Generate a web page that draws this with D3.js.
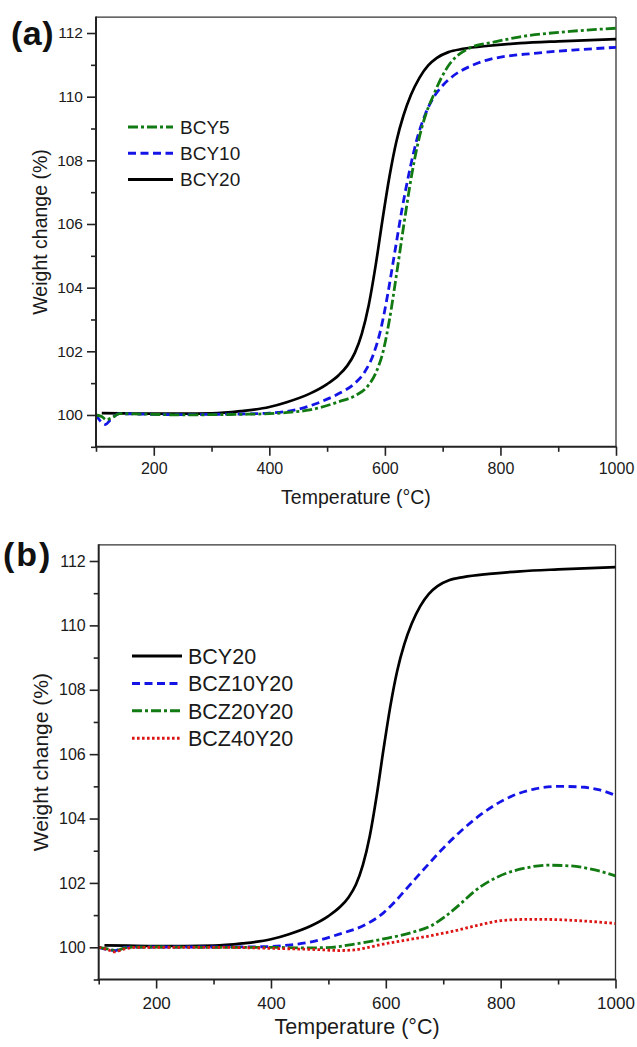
<!DOCTYPE html>
<html><head><meta charset="utf-8">
<script src="https://cdn.jsdelivr.net/npm/d3@7/dist/d3.min.js"></script>
<style>html,body{margin:0;padding:0;background:#fff;}svg{display:block;}</style>
</head><body>
<svg id="chart" width="637" height="1047"></svg>
<script>
// ---------- data ----------
const xMajorTicks = [200, 400, 600, 800, 1000];
const xMinorTicks = [100, 300, 500, 700, 900];
const yMajorTicks = [100, 102, 104, 106, 108, 110, 112];
const yMinorTicks = [99, 101, 103, 105, 107, 109, 111];

// BCY20 (same sample in both panels)
const bcy20T = [110,150,200,250,300,350,400,430,470,500,520,535,548,560,572,584,596,608,620,632,645,660,675,690,710,735,780,834,900,1000];
const bcy20W = [100.06,100.05,100.04,100.04,100.05,100.12,100.25,100.4,100.67,100.97,101.25,101.55,101.95,102.55,103.45,104.7,106.15,107.5,108.6,109.4,110.05,110.6,110.98,111.22,111.4,111.5,111.6,111.68,111.74,111.81];

// BCY10
const bcy10T = [100,108,116,125,140,200,250,300,350,400,445,483,521,545,565,580,593,605,617,630,643,656,670,685,700,718,747,777,863,930,1000];
const bcy10W = [100.0,99.8,99.7,99.85,100.04,100.02,100.01,100.02,100.03,100.06,100.16,100.37,100.68,100.95,101.35,101.9,102.7,103.8,105.1,106.5,107.7,108.7,109.45,110.0,110.35,110.65,110.95,111.15,111.37,111.47,111.55];

// BCY5
const bcy5T = [100,110,118,128,141,200,250,300,350,400,432,470,521,550,570,585,597,608,620,633,646,658,670,683,698,713,730,747,790,834,920,1000];
const bcy5W = [100.0,99.95,99.85,99.92,100.04,100.02,100.0,100.01,100.02,100.04,100.08,100.16,100.42,100.62,100.9,101.35,102.0,103.0,104.4,106.0,107.5,108.6,109.4,110.0,110.6,111.05,111.35,111.53,111.72,111.88,112.05,112.15];

// BCZ10Y20
const bcz10T = [100,115,128,145,200,300,391,430,468,519,564,596,615,640,670,700,730,760,790,820,860,900,940,970,1000];
const bcz10W = [100.0,99.93,99.9,100.0,100.01,100.01,100.02,100.07,100.16,100.41,100.7,101.07,101.4,101.9,102.5,103.08,103.6,104.05,104.42,104.7,104.92,105.0,104.98,104.9,104.72];

// BCZ20Y20
const bcz20T = [100,115,130,150,200,300,400,460,506,545,596,647,680,705,730,755,780,810,840,880,920,960,1000];
const bcz20W = [100.0,99.95,99.9,100.0,100.01,100.0,100.0,99.98,100.0,100.1,100.26,100.47,100.68,100.98,101.35,101.75,102.05,102.3,102.45,102.55,102.53,102.42,102.22];

// BCZ40Y20
const bcz40T = [100,115,128,145,165,200,300,417,480,519,545,570,596,647,712,769,801,853,897,942,1000];
const bcz40W = [100.0,99.93,99.86,99.95,100.0,100.0,100.0,99.96,99.93,99.9,99.92,100.0,100.1,100.26,100.48,100.72,100.83,100.87,100.86,100.82,100.74];

const topNames = ["BCY5", "BCY10", "BCY20"];
const bottomNames = ["BCY20", "BCZ10Y20", "BCZ20Y20", "BCZ40Y20"];
const xDomain = [100, 1000];
const yDomain = [99, 112.5];
const xTitle = "Temperature (°C)";
const yTitle = "Weight change (%)";

// ---------- styles ----------
const FONT = "'Liberation Sans', Arial, Helvetica, sans-serif";
const styles = {
  solid:   {color: "#000000", dash: null,        width: 2.7},
  dash:    {color: "#1414e6", dash: "8,4.5",     width: 2.8},
  dashdot: {color: "#127a12", dash: "10,3,3,3",  width: 2.8},
  dot:     {color: "#dd1515", dash: "2.6,2.4",   width: 2.8}
};

const zip = (T, W) => T.map((t, i) => ({t, w: W[i]}));

const svg = d3.select("#chart");

function drawPanel(cfg) {
  const x = d3.scaleLinear().domain(xDomain).range([cfg.left, cfg.right]);
  const y = d3.scaleLinear().domain(yDomain).range([cfg.bottom, cfg.top]);
  const g = svg.append("g");

  const clipId = "clip" + cfg.id;
  g.append("clipPath").attr("id", clipId).append("rect")
    .attr("x", cfg.left).attr("y", cfg.top)
    .attr("width", cfg.right - cfg.left).attr("height", cfg.bottom - cfg.top);

  // frame top/right thin
  g.append("line").attr("x1", cfg.left).attr("x2", cfg.right).attr("y1", cfg.top).attr("y2", cfg.top)
    .attr("stroke", "#333").attr("stroke-width", 1.3);
  g.append("line").attr("x1", cfg.right).attr("x2", cfg.right).attr("y1", cfg.top).attr("y2", cfg.bottom)
    .attr("stroke", "#333").attr("stroke-width", 1.3);

  // curves
  const line = d3.line().x(d => x(d.t)).y(d => y(d.w)).curve(d3.curveMonotoneX);
  const cg = g.append("g").attr("clip-path", `url(#${clipId})`);
  cfg.series.forEach(s => {
    const st = styles[s.style];
    cg.append("path").datum(zip(s.T, s.W))
      .attr("d", line).attr("fill", "none")
      .attr("stroke", st.color).attr("stroke-width", st.width)
      .attr("stroke-dasharray", st.dash).attr("stroke-linejoin", "round");
  });

  // axes
  const fmt = d3.format("d");
  const xAx = g.append("g").attr("transform", `translate(0,${cfg.bottom})`)
    .call(d3.axisBottom(x).tickValues(xMajorTicks).tickFormat(fmt).tickSize(9).tickPadding(cfg.xPad).tickSizeOuter(0));
  const xAxMinor = g.append("g").attr("transform", `translate(0,${cfg.bottom})`)
    .call(d3.axisBottom(x).tickValues(xMinorTicks).tickFormat("").tickSize(5).tickSizeOuter(0));
  const yAx = g.append("g").attr("transform", `translate(${cfg.left},0)`)
    .call(d3.axisLeft(y).tickValues(yMajorTicks).tickFormat(fmt).tickSize(9).tickPadding(4).tickSizeOuter(0));
  const yAxMinor = g.append("g").attr("transform", `translate(${cfg.left},0)`)
    .call(d3.axisLeft(y).tickValues(yMinorTicks).tickFormat("").tickSize(5).tickSizeOuter(0));
  [xAx, xAxMinor, yAx, yAxMinor].forEach(a => {
    a.select(".domain").remove();
    a.selectAll(".tick line").attr("stroke", "#222").attr("stroke-width", 1.6);
  });
  xAx.selectAll("text").attr("font-family", FONT).attr("font-size", cfg.xTickFont).attr("fill", "#1a1a1a");
  yAx.selectAll("text").attr("font-family", FONT).attr("font-size", cfg.yTickFont).attr("fill", "#1a1a1a");

  // left/bottom axis lines
  g.append("line").attr("x1", cfg.left).attr("x2", cfg.left).attr("y1", cfg.top - 0.6).attr("y2", cfg.bottom + 1)
    .attr("stroke", "#222").attr("stroke-width", 2);
  g.append("line").attr("x1", cfg.left - 1).attr("x2", cfg.right + 0.6).attr("y1", cfg.bottom).attr("y2", cfg.bottom)
    .attr("stroke", "#222").attr("stroke-width", 2);

  // titles
  g.append("text").attr("x", (cfg.left + cfg.right) / 2).attr("y", cfg.xTitleY)
    .attr("text-anchor", "middle").attr("font-family", FONT).attr("font-size", cfg.titleFont)
    .attr("fill", "#1a1a1a").text(xTitle);
  g.append("text").attr("transform", `translate(${cfg.yTitleX},${(cfg.top + cfg.bottom) / 2}) rotate(-90)`)
    .attr("text-anchor", "middle").attr("font-family", FONT).attr("font-size", cfg.yTitleFont)
    .attr("fill", "#1a1a1a").text(yTitle);

  // panel label
  g.append("text").attr("x", cfg.labelX).attr("y", cfg.labelY)
    .attr("font-family", FONT).attr("font-weight", "bold").attr("font-size", 34)
    .attr("letter-spacing", cfg.labelSpacing).attr("fill", "#111").text(cfg.label);

  // legend
  const lg = g.append("g");
  cfg.series.slice().sort((a, b) => a.legendOrder - b.legendOrder).forEach((s, i) => {
    const st = styles[s.style];
    const yy = cfg.legend.y0 + i * cfg.legend.dy;
    lg.append("line").attr("x1", cfg.legend.x1).attr("x2", cfg.legend.x2).attr("y1", yy).attr("y2", yy)
      .attr("stroke", st.color).attr("stroke-width", 3).attr("stroke-dasharray", st.dash);
    lg.append("text").attr("x", cfg.legend.tx).attr("y", yy).attr("dy", "0.36em")
      .attr("font-family", FONT).attr("font-size", cfg.legend.font).attr("fill", "#1a1a1a").text(s.name);
  });
}

drawPanel({
  id: "a", label: "(a)", labelX: 11, labelY: 45, labelSpacing: 0.5,
  left: 96, right: 616, top: 17.1, bottom: 446.8,
  xPad: 7, xTickFont: 16, yTickFont: 15.5, titleFont: 19.5, yTitleFont: 19.5,
  xTitleY: 504, yTitleX: 47,
  legend: {x1: 128, x2: 173, tx: 180, y0: 127, dy: 26.2, font: 19},
  series: [
    {name: topNames[2], T: bcy20T, W: bcy20W, style: "solid", legendOrder: 2},
    {name: topNames[1], T: bcy10T, W: bcy10W, style: "dash", legendOrder: 1},
    {name: topNames[0], T: bcy5T, W: bcy5W, style: "dashdot", legendOrder: 0}
  ]
});

drawPanel({
  id: "b", label: "(b)", labelX: 3, labelY: 566, labelSpacing: 2,
  left: 98.7, right: 615.5, top: 544.9, bottom: 979.5,
  xPad: 8, xTickFont: 17, yTickFont: 16, titleFont: 21.5, yTitleFont: 21,
  xTitleY: 1034, yTitleX: 48,
  legend: {x1: 132, x2: 182, tx: 188, y0: 656, dy: 27.4, font: 21.5},
  series: [
    {name: bottomNames[0], T: bcy20T, W: bcy20W, style: "solid", legendOrder: 0},
    {name: bottomNames[1], T: bcz10T, W: bcz10W, style: "dash", legendOrder: 1},
    {name: bottomNames[2], T: bcz20T, W: bcz20W, style: "dashdot", legendOrder: 2},
    {name: bottomNames[3], T: bcz40T, W: bcz40W, style: "dot", legendOrder: 3}
  ]
});
</script>
</body></html>
